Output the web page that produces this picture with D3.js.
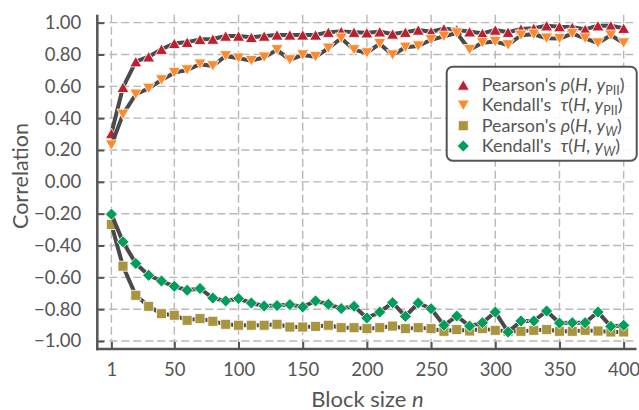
<!DOCTYPE html>
<html>
<head>
<meta charset="utf-8">
<script src="https://cdn.jsdelivr.net/npm/d3@7"></script>
<style>
  html, body { margin: 0; padding: 0; background: #fff; }
  svg { display: block; font-family: "Lato", "Open Sans", sans-serif; }
</style>
</head>
<body>
<svg id="chart" width="639" height="410"></svg>
<script>
// Block sizes on the x axis
const blockSizes = [1, 10, 20, 30, 40, 50, 60, 70, 80, 90, 100, 110, 120, 130, 140, 150, 160, 170, 180, 190, 200,
  210, 220, 230, 240, 250, 260, 270, 280, 290, 300, 310, 320, 330, 340, 350, 360, 370, 380, 390, 400];

// Pearson's rho(H, y_PII)
const pearsonPII = [0.304, 0.594, 0.755, 0.786, 0.833, 0.870, 0.877, 0.895, 0.897, 0.916, 0.916, 0.908, 0.916, 0.923, 0.923, 0.923, 0.923, 0.940, 0.944, 0.940, 0.937,
  0.943, 0.929, 0.940, 0.954, 0.943, 0.962, 0.955, 0.943, 0.933, 0.954, 0.940, 0.960, 0.965, 0.981, 0.975, 0.971, 0.958, 0.981, 0.981, 0.965];

// Kendall's tau(H, y_PII)
const kendallPII = [0.231, 0.424, 0.550, 0.587, 0.640, 0.686, 0.703, 0.739, 0.728, 0.791, 0.777, 0.761, 0.783, 0.829, 0.766, 0.797, 0.786, 0.839, 0.902, 0.829, 0.810,
  0.868, 0.797, 0.845, 0.853, 0.893, 0.914, 0.935, 0.830, 0.874, 0.881, 0.860, 0.921, 0.927, 0.902, 0.900, 0.931, 0.902, 0.872, 0.921, 0.872];

// Pearson's rho(H, y_W)
const pearsonW = [-0.268, -0.530, -0.713, -0.782, -0.828, -0.838, -0.870, -0.859, -0.876, -0.895, -0.901, -0.901, -0.901, -0.895, -0.912, -0.912, -0.908, -0.901, -0.916, -0.916, -0.922,
  -0.916, -0.906, -0.922, -0.916, -0.922, -0.939, -0.928, -0.937, -0.922, -0.933, -0.939, -0.939, -0.933, -0.928, -0.939, -0.939, -0.933, -0.937, -0.943, -0.943];

// Kendall's tau(H, y_W)
const kendallW = [-0.203, -0.377, -0.513, -0.587, -0.623, -0.656, -0.681, -0.670, -0.730, -0.748, -0.733, -0.761, -0.780, -0.777, -0.771, -0.786, -0.748, -0.769, -0.796, -0.782, -0.855,
  -0.818, -0.759, -0.845, -0.761, -0.797, -0.901, -0.843, -0.906, -0.885, -0.818, -0.943, -0.874, -0.874, -0.811, -0.887, -0.885, -0.885, -0.818, -0.908, -0.901];

// Tick values
const xTicks = [1, 50, 100, 150, 200, 250, 300, 350, 400];
const yTicks = [-1.0, -0.8, -0.6, -0.4, -0.2, 0.0, 0.2, 0.4, 0.6, 0.8, 1.0];

const svg = d3.select("#chart");
const axisColor = "#555555";
const lineColor = "#4a4a4a";
const gridColor = "#b8b8b8";

const x = d3.scaleLinear().domain([-10, 410]).range([97.3, 636.5]);
const y = d3.scaleLinear().domain([-1.05, 1.05]).range([349, 14.7]);

// Grid
const grid = svg.append("g");
grid.selectAll("line.gx").data(xTicks).join("line")
  .attr("x1", d => x(d)).attr("x2", d => x(d))
  .attr("y1", y.range()[1]).attr("y2", y.range()[0])
  .attr("stroke", gridColor).attr("stroke-width", 1.4).attr("stroke-dasharray", "8,4");
grid.selectAll("line.gy").data(yTicks).join("line")
  .attr("x1", x.range()[0]).attr("x2", x.range()[1])
  .attr("y1", d => y(d)).attr("y2", d => y(d))
  .attr("stroke", gridColor).attr("stroke-width", 1.4).attr("stroke-dasharray", "8,4");

// Marker shapes
const markerPaths = {
  triUp: "M0,-5.2L6,5.2L-6,5.2Z",
  triDown: "M0,5.2L6,-5.2L-6,-5.2Z",
  square: "M-5,-5H5V5H-5Z",
  diamond: "M0,-6L6,0L0,6L-6,0Z"
};

const series = [
  { values: pearsonPII, color: "#bb2030", marker: "triUp" },
  { values: kendallPII, color: "#fd8a2c", marker: "triDown" },
  { values: pearsonW, color: "#a99540", marker: "square" },
  { values: kendallW, color: "#009e5b", marker: "diamond" }
];

const line = d3.line().x(d => x(d[0])).y(d => y(d[1]));

const plot = svg.append("g");
series.forEach(s => {
  const pts = blockSizes.map((b, i) => [b, s.values[i]]);
  const g = plot.append("g");
  g.append("path").datum(pts).attr("d", line)
    .attr("fill", "none").attr("stroke", lineColor).attr("stroke-width", 4)
    .attr("stroke-linejoin", "round");
  g.selectAll("path.m").data(pts).join("path")
    .attr("class", "m")
    .attr("d", markerPaths[s.marker])
    .attr("transform", d => `translate(${x(d[0])},${y(d[1])})`)
    .attr("fill", s.color).attr("stroke", "#fff").attr("stroke-width", 0.8);
});

// Axes
const fmt = d => (d < 0 ? "\u2212" : "") + Math.abs(d).toFixed(2);

const xAxis = svg.append("g").attr("transform", `translate(0,${y.range()[0]})`)
  .call(d3.axisBottom(x).tickValues(xTicks).tickSizeInner(-7).tickSizeOuter(0).tickPadding(14));
const yAxis = svg.append("g").attr("transform", `translate(${x.range()[0]},0)`)
  .call(d3.axisLeft(y).tickValues(yTicks).tickFormat(fmt).tickSizeInner(-7).tickSizeOuter(0).tickPadding(16));

[xAxis, yAxis].forEach(a => {
  a.select(".domain").attr("stroke", axisColor).attr("stroke-width", 2.5);
  a.selectAll(".tick line").attr("stroke", axisColor).attr("stroke-width", 2);
  a.selectAll(".tick text").attr("fill", axisColor).style("font-size", "18.5px").style("font-family", "Lato, sans-serif");
});
// extend spines to meet at the corner
xAxis.select(".domain").attr("d", `M${x.range()[0] - 1.2},0H${x.range()[1]}`);
yAxis.select(".domain").attr("d", `M0,${y.range()[0] + 1.2}V${y.range()[1]}`);

// Axis titles
svg.append("text")
  .attr("transform", "translate(28,176) rotate(-90)")
  .attr("text-anchor", "middle").attr("fill", axisColor)
  .style("font-size", "21.5px")
  .text("Correlation");

const xt = svg.append("text")
  .attr("x", 367.5).attr("y", 406.5)
  .attr("text-anchor", "middle").attr("fill", axisColor)
  .style("font-size", "22px");
xt.append("tspan").text("Block size ");
xt.append("tspan").attr("font-style", "italic").text("n");

// Legend
const legend = svg.append("g");
legend.append("rect")
  .attr("x", 446.7).attr("y", 66.7).attr("width", 190).attr("height", 94)
  .attr("rx", 6).attr("fill", "#fff").attr("fill-opacity", 0.9)
  .attr("stroke", axisColor).attr("stroke-width", 2);

const legendItems = [
  { name: "Pearson's ", sym: "\u03C1", sub: "PII", subItalic: false },
  { name: "Kendall's  ", sym: "\u03C4", sub: "PII", subItalic: false },
  { name: "Pearson's ", sym: "\u03C1", sub: "W", subItalic: true },
  { name: "Kendall's  ", sym: "\u03C4", sub: "W", subItalic: true }
];
const rowY = [85, 105.3, 125.7, 146];

legendItems.forEach((item, i) => {
  const s = series[i];
  const cy = rowY[i];
  legend.append("path")
    .attr("d", markerPaths[s.marker])
    .attr("transform", `translate(463.3,${cy})`)
    .attr("fill", s.color).attr("stroke", "#fff").attr("stroke-width", 0.8);
  const t = legend.append("text")
    .attr("x", 481.7).attr("y", cy + 6)
    .attr("fill", axisColor).style("font-size", "18px")
    .style("white-space", "pre");
  t.append("tspan").text(item.name);
  t.append("tspan").attr("font-style", "italic").text(item.sym);
  t.append("tspan").text("(");
  t.append("tspan").attr("font-style", "italic").text("H");
  t.append("tspan").text(", ");
  t.append("tspan").attr("font-style", "italic").text("y");
  t.append("tspan").attr("dy", 4).style("font-size", "12.5px")
    .attr("font-style", item.subItalic ? "italic" : "normal").text(item.sub);
  t.append("tspan").attr("dy", -4).text(")");
});
</script>
</body>
</html>
